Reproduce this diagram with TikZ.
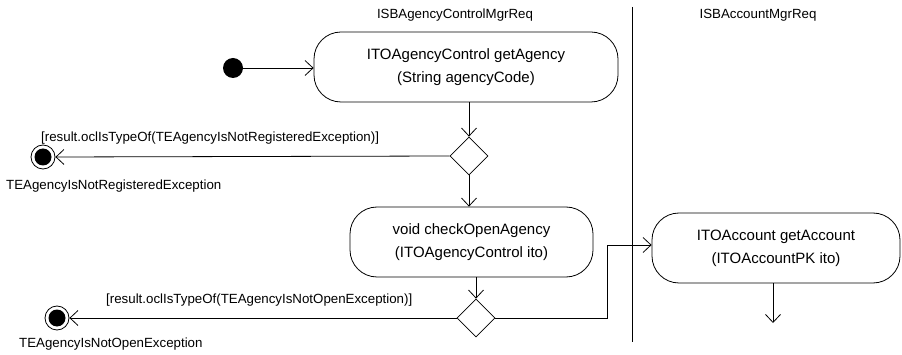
\documentclass[tikz,border=0pt]{standalone}
\usepackage{fontspec}
\setmainfont{Liberation Sans}
\usetikzlibrary{arrows.meta,shapes.geometric}

\tikzset{
  flow/.style={draw=black, line width=0.8pt, -{Straight Barb[length=8pt,width=15pt,line width=0.8pt]}},
  line/.style={draw=black, line width=0.8pt},
  action/.style={draw=black, line width=0.8pt, rounded corners=27pt, align=center,
    font=\fontsize{15}{23}\selectfont, inner sep=0pt},
  choice/.style={diamond, draw=black, line width=0.8pt, aspect=1, minimum width=38pt,
    minimum height=38pt, inner sep=0pt},
  startdot/.style={circle, fill=black, minimum size=20pt, inner sep=0pt},
  enddot/.style={circle, draw=black, line width=0.8pt, fill=white, minimum size=24pt, inner sep=0pt,
    path picture={\fill[black] (path picture bounding box.center) circle (8.5pt);}},
  small/.style={font=\fontsize{13.3}{16}\selectfont, inner sep=0pt},
}

\begin{document}
\begin{tikzpicture}[x=1pt, y=-1pt]
  \useasboundingbox (0,0) rectangle (902,355);

  % swimlane headers and separator
  \node[small] (laneA) at (455,15) {ISBAgencyControlMgrReq};
  \node[small] (laneB) at (758,15) {ISBAccountMgrReq};
  \coordinate (sepTop) at (632,7);
  \coordinate (sepBot) at (632,342);
  \draw[line] (sepTop) -- (sepBot);

  % nodes
  \node[startdot] (start) at (233,68) {};
  \node[action, minimum width=304pt, minimum height=70pt] (getAgency) at (466,67)
    {ITOAgencyControl getAgency\\(String agencyCode)};
  \node[choice] (dec1) at (469,156) {};
  \node[enddot] (end1) at (43,157) {};
  \node[small, anchor=west] (end1lbl) at (6,186) {TEAgencyIsNotRegisteredException};

  \node[action, minimum width=243pt, minimum height=70pt] (checkOpen) at (471.5,242)
    {void checkOpenAgency\\(ITOAgencyControl ito)};
  \node[choice] (dec2) at (476,318) {};
  \node[enddot] (end2) at (57,318) {};
  \node[small, anchor=west] (end2lbl) at (19,344) {TEAgencyIsNotOpenException};

  \node[action, minimum width=248pt, minimum height=70pt] (getAccount) at (776,248)
    {ITOAccount getAccount\\(ITOAccountPK ito)};
  \coordinate (bendLow) at (607,318);
  \coordinate (bendHigh) at (607,245);
  \coordinate (accOut) at (773,323);

  % connectors
  \draw[flow] (start) -- (getAgency.west |- start);
  \draw[flow] (getAgency.south -| dec1.north) -- (dec1.north);
  \draw[flow] (dec1.west) -- (end1.east);
  \node[small, anchor=west] (guard1) at (41,138) {[result.oclIsTypeOf(TEAgencyIsNotRegisteredException)]};
  \draw[flow] (dec1.south) -- (dec1.south |- checkOpen.north);
  \draw[flow] (checkOpen.south -| dec2.north) -- (dec2.north);
  \draw[flow] (dec2.west) -- (end2.east);
  \node[small, anchor=west] (guard2) at (106,300) {[result.oclIsTypeOf(TEAgencyIsNotOpenException)]};
  \draw[flow] (dec2.east) -- (bendLow) -- (bendHigh) -- (bendHigh -| getAccount.west);
  \draw[flow] (getAccount.south -| accOut) -- (accOut);
\end{tikzpicture}
\end{document}
